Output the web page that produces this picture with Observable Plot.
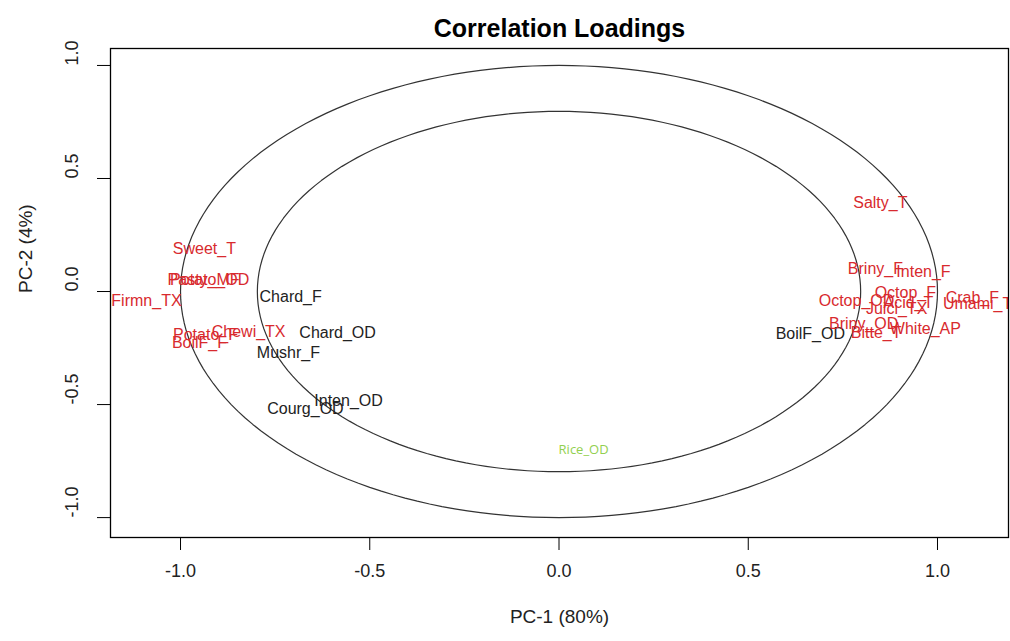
<!DOCTYPE html>
<html><head><meta charset="utf-8">
<script src="https://cdn.jsdelivr.net/npm/d3@7"></script>
<script src="https://cdn.jsdelivr.net/npm/@observablehq/plot@0.6"></script>
<style>body{margin:0;background:#fff;}</style>
</head><body><div id="chart"></div>
<script>
const labels = ["Sweet_T","Potato_OD","Pasty_MF","Firmn_TX","Potato_F","BoilF_F","Chewi_TX",
  "Chard_F","Chard_OD","Mushr_F","Inten_OD","Courg_OD","Rice_OD","BoilF_OD",
  "Salty_T","Briny_F","Inten_F","Octop_F","Octop_OD","Acid_T","Crab_F","Juici_TX","Umami_T",
  "Briny_OD","Bitte_T","White_AP"];
const pc1 = [-0.937,-0.923,-0.939,-1.090,-0.934,-0.950,-0.820,
  -0.709,-0.585,-0.715,-0.556,-0.670,0.065,0.664,
  0.849,0.836,0.963,0.915,0.786,0.923,1.092,0.892,1.106,
  0.805,0.838,0.968];
const pc2 = [0.190,0.053,0.053,-0.040,-0.190,-0.226,-0.177,
  -0.022,-0.181,-0.270,-0.482,-0.518,-0.699,-0.186,
  0.394,0.102,0.088,-0.004,-0.040,-0.049,-0.027,-0.075,-0.053,
  -0.142,-0.181,-0.164];
const groups = ["red","red","red","red","red","red","red",
  "black","black","black","black","black","green","black",
  "red","red","red","red","red","red","red","red","red",
  "red","red","red"];
const xTicks = [-1.0,-0.5,0.0,0.5,1.0];
const yTicks = [-1.0,-0.5,0.0,0.5,1.0];
const radii = [1.0, 0.797];

const colorOf = {red:"#d82a2e", black:"#222222", green:"#92d050"};
const pts = labels.map((l,i)=>({label:l, x:pc1[i], y:pc2[i], g:groups[i]}));
const main = pts.filter(d=>d.g!=="green");
const green = pts.filter(d=>d.g==="green");
const circles = radii.flatMap(r => d3.range(0, 361, 2).map(a => ({r, x: r*Math.cos(a*Math.PI/180), y: r*Math.sin(a*Math.PI/180)})));
const fmt = d => d.toFixed(1);

const chart = Plot.plot({
  width: 1010, height: 641,
  marginLeft: 110, marginRight: 2, marginTop: 48, marginBottom: 104,
  x: {domain: [-1.185, 1.1876], axis: null},
  y: {domain: [-1.088, 1.075], axis: null},
  style: {fontFamily: "'Liberation Sans', Arial, sans-serif", background: "#fff"},
  marks: [
    Plot.line(circles, {x: "x", y: "y", z: "r", stroke: "#333", strokeWidth: 1.2}),
    Plot.text(main, {x: "x", y: "y", text: "label", fill: d => colorOf[d.g], fontSize: 16, clip: true}),
    Plot.text(green, {x: "x", y: "y", text: "label", fill: d => colorOf[d.g], fontSize: 13, fontFamily: "'Open Sans', sans-serif", clip: true}),
    Plot.frame({stroke: "#000", strokeWidth: 1.3}),
    Plot.axisX(xTicks, {label: null, tickSize: 13, tickPadding: 14, tickFormat: fmt, fontSize: 18, stroke: "#000", fill: "#222"}),
    Plot.axisY(yTicks, {label: null, tickSize: 13, tickFormat: () => "", stroke: "#000"}),
    Plot.text(yTicks, {y: d => d, text: fmt, frameAnchor: "left", dx: -38, rotate: -90, fontSize: 18, fill: "#222"}),
    Plot.text(["PC-1 (80%)"], {frameAnchor: "bottom", dy: 85, fontSize: 19, fill: "#222"}),
    Plot.text(["PC-2 (4%)"], {frameAnchor: "left", dx: -85, rotate: -90, fontSize: 19, fill: "#222"}),
    Plot.text(["Correlation Loadings"], {frameAnchor: "top", dy: -29, fontSize: 25, fontWeight: "bold", fill: "#000"})
  ]
});
document.getElementById("chart").appendChild(chart);
</script>
</body></html>
